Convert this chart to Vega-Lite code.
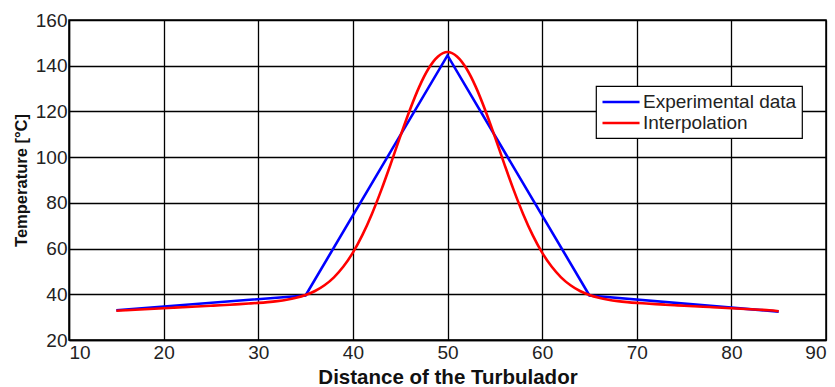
{
  "$schema": "https://vega.github.io/schema/vega-lite/v6.json",
  "autosize": {"type": "none"},
  "padding": {"left": 69, "top": 20, "right": 9, "bottom": 47},
  "width": 757,
  "height": 320,
  "background": "white",
  "config": {
    "view": {"stroke": "black", "strokeWidth": 1.5},
    "font": "Liberation Sans",
    "legend": {"strokeWidth": 1.2},
    "axis": {
      "gridColor": "black",
      "gridOpacity": 1,
      "gridWidth": 1.3,
      "domainColor": "black",
      "domainWidth": 1.5,
      "ticks": false,
      "labelColor": "#222222",
      "labelFont": "Liberation Sans",
      "labelFontSize": 19,
      "labelPadding": 3,
      "titleFont": "Liberation Sans",
      "titleFontWeight": "bold",
      "titleColor": "#111111"
    }
  },
  "data": {
    "values": [
      {"series": "Experimental data", "x": 15, "y": 33.0},
      {"series": "Experimental data", "x": 35, "y": 39.5},
      {"series": "Experimental data", "x": 50, "y": 144.5},
      {"series": "Experimental data", "x": 65, "y": 39.5},
      {"series": "Experimental data", "x": 85, "y": 32.4},
      {"series": "Interpolation", "x": 15, "y": 32.80},
      {"series": "Interpolation", "x": 16, "y": 33.02},
      {"series": "Interpolation", "x": 17, "y": 33.24},
      {"series": "Interpolation", "x": 18, "y": 33.46},
      {"series": "Interpolation", "x": 19, "y": 33.68},
      {"series": "Interpolation", "x": 20, "y": 33.90},
      {"series": "Interpolation", "x": 21, "y": 34.12},
      {"series": "Interpolation", "x": 22, "y": 34.34},
      {"series": "Interpolation", "x": 23, "y": 34.56},
      {"series": "Interpolation", "x": 24, "y": 34.78},
      {"series": "Interpolation", "x": 25, "y": 35.00},
      {"series": "Interpolation", "x": 26, "y": 35.22},
      {"series": "Interpolation", "x": 27, "y": 35.45},
      {"series": "Interpolation", "x": 28, "y": 35.69},
      {"series": "Interpolation", "x": 29, "y": 35.95},
      {"series": "Interpolation", "x": 30, "y": 36.23},
      {"series": "Interpolation", "x": 31, "y": 36.58},
      {"series": "Interpolation", "x": 32, "y": 37.02},
      {"series": "Interpolation", "x": 33, "y": 37.61},
      {"series": "Interpolation", "x": 34, "y": 38.46},
      {"series": "Interpolation", "x": 35, "y": 39.68},
      {"series": "Interpolation", "x": 36, "y": 41.44},
      {"series": "Interpolation", "x": 37, "y": 43.95},
      {"series": "Interpolation", "x": 38, "y": 47.43},
      {"series": "Interpolation", "x": 39, "y": 52.12},
      {"series": "Interpolation", "x": 40, "y": 58.23},
      {"series": "Interpolation", "x": 41, "y": 65.87},
      {"series": "Interpolation", "x": 42, "y": 75.05},
      {"series": "Interpolation", "x": 43, "y": 85.58},
      {"series": "Interpolation", "x": 44, "y": 97.08},
      {"series": "Interpolation", "x": 45, "y": 108.95},
      {"series": "Interpolation", "x": 46, "y": 120.42},
      {"series": "Interpolation", "x": 47, "y": 130.64},
      {"series": "Interpolation", "x": 48, "y": 138.76},
      {"series": "Interpolation", "x": 49, "y": 144.04},
      {"series": "Interpolation", "x": 50, "y": 146.00},
      {"series": "Interpolation", "x": 51, "y": 144.04},
      {"series": "Interpolation", "x": 52, "y": 138.76},
      {"series": "Interpolation", "x": 53, "y": 130.64},
      {"series": "Interpolation", "x": 54, "y": 120.42},
      {"series": "Interpolation", "x": 55, "y": 108.95},
      {"series": "Interpolation", "x": 56, "y": 97.08},
      {"series": "Interpolation", "x": 57, "y": 85.58},
      {"series": "Interpolation", "x": 58, "y": 75.05},
      {"series": "Interpolation", "x": 59, "y": 65.87},
      {"series": "Interpolation", "x": 60, "y": 58.23},
      {"series": "Interpolation", "x": 61, "y": 52.12},
      {"series": "Interpolation", "x": 62, "y": 47.43},
      {"series": "Interpolation", "x": 63, "y": 43.95},
      {"series": "Interpolation", "x": 64, "y": 41.44},
      {"series": "Interpolation", "x": 65, "y": 39.68},
      {"series": "Interpolation", "x": 66, "y": 38.46},
      {"series": "Interpolation", "x": 67, "y": 37.61},
      {"series": "Interpolation", "x": 68, "y": 37.02},
      {"series": "Interpolation", "x": 69, "y": 36.58},
      {"series": "Interpolation", "x": 70, "y": 36.23},
      {"series": "Interpolation", "x": 71, "y": 35.95},
      {"series": "Interpolation", "x": 72, "y": 35.69},
      {"series": "Interpolation", "x": 73, "y": 35.45},
      {"series": "Interpolation", "x": 74, "y": 35.22},
      {"series": "Interpolation", "x": 75, "y": 35.00},
      {"series": "Interpolation", "x": 76, "y": 34.78},
      {"series": "Interpolation", "x": 77, "y": 34.56},
      {"series": "Interpolation", "x": 78, "y": 34.34},
      {"series": "Interpolation", "x": 79, "y": 34.12},
      {"series": "Interpolation", "x": 80, "y": 33.90},
      {"series": "Interpolation", "x": 81, "y": 33.68},
      {"series": "Interpolation", "x": 82, "y": 33.46},
      {"series": "Interpolation", "x": 83, "y": 33.24},
      {"series": "Interpolation", "x": 84, "y": 33.02},
      {"series": "Interpolation", "x": 85, "y": 32.60}
    ]
  },
  "encoding": {
    "x": {
      "field": "x",
      "type": "quantitative",
      "scale": {"domain": [10, 90], "nice": false, "zero": false},
      "axis": {
        "values": [10, 20, 30, 40, 50, 60, 70, 80, 90],
        "title": "Distance of the Turbulador",
        "titleFontSize": 20.5,
        "titlePadding": 5
      }
    },
    "y": {
      "field": "y",
      "type": "quantitative",
      "scale": {"domain": [20, 160], "nice": false, "zero": false},
      "axis": {
        "values": [20, 40, 60, 80, 100, 120, 140, 160],
        "title": "Temperature [°C]",
        "titleFontSize": 16.5,
        "titlePadding": 6,
        "labelPadding": 2
      }
    },
    "color": {
      "field": "series",
      "type": "nominal",
      "scale": {"domain": ["Experimental data", "Interpolation"], "range": ["#0000ff", "#ff0000"]},
      "legend": {
        "title": null,
        "orient": "none",
        "legendX": 527,
        "legendY": 66,
        "direction": "vertical",
        "fillColor": "white",
        "strokeColor": "black",
        "cornerRadius": 0,
        "padding": 5,
        "symbolType": "M-1,0H2.9",
        "symbolSize": 361,
        "symbolStrokeWidth": 2.6,
        "symbolFillColor": "transparent",
        "labelFontSize": 19,
        "labelFont": "Liberation Sans",
        "labelColor": "#222222",
        "labelOffset": 20,
        "rowPadding": 0,
        "labelLimit": 300
      }
    }
  },
  "layer": [
    {
      "transform": [{"filter": "datum.series === 'Experimental data'"}],
      "mark": {"type": "line", "strokeWidth": 2.6, "interpolate": "linear"}
    },
    {
      "transform": [{"filter": "datum.series === 'Interpolation'"}],
      "mark": {"type": "line", "strokeWidth": 2.6, "interpolate": "monotone"}
    }
  ]
}
